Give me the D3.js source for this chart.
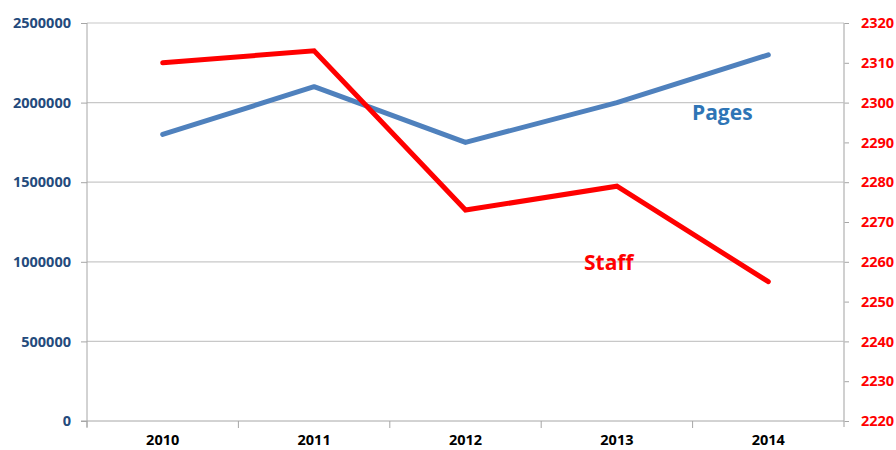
<!DOCTYPE html>
<html>
<head>
<meta charset="utf-8">
<script src="https://cdn.jsdelivr.net/npm/d3@7"></script>
<style>
  body { margin: 0; background: #fff; }
  text { font-family: "Open Sans", sans-serif; font-weight: bold; }
</style>
</head>
<body>
<script>
// data
var years = ["2010", "2011", "2012", "2013", "2014"];
var pages = [1800000, 2100000, 1750000, 2000000, 2300000];
var staff = [2310, 2313, 2273, 2279, 2255];
var leftTicks = [0, 500000, 1000000, 1500000, 2000000, 2500000];
var rightTicks = [2220, 2230, 2240, 2250, 2260, 2270, 2280, 2290, 2300, 2310, 2320];

var width = 896;
var height = 450;
var plot = {left: 87, right: 844, top: 23, bottom: 421};

var svg = d3.select("body").append("svg")
    .attr("width", width)
    .attr("height", height);

var x = d3.scaleBand().domain(years).range([plot.left, plot.right]);
var yL = d3.scaleLinear().domain([0, 2500000]).range([plot.bottom, plot.top]);
var yR = d3.scaleLinear().domain([2220, 2320]).range([plot.bottom, plot.top]);

// gridlines
svg.append("g")
    .selectAll("line")
    .data(leftTicks.slice(1))
    .enter().append("line")
    .attr("x1", plot.left).attr("x2", plot.right)
    .attr("y1", d => yL(d)).attr("y2", d => yL(d))
    .attr("stroke", "#c8c8c8")
    .attr("stroke-width", 1.2);

// left axis
var gl = svg.append("g").attr("transform", "translate(" + plot.left + ",0)")
    .call(d3.axisLeft(yL).tickValues(leftTicks).tickSize(6).tickPadding(10).tickFormat(d3.format("d")));
gl.select(".domain").remove();
gl.selectAll(".tick line").attr("stroke", "#a6a6a6");
gl.selectAll("text").attr("fill", "#244a7c").style("font-size", "14.5px");
gl.append("line").attr("x1", 0).attr("x2", 0).attr("y1", plot.top).attr("y2", plot.bottom + 6).attr("stroke", "#a6a6a6");

// right axis
var gr = svg.append("g").attr("transform", "translate(" + plot.right + ",0)")
    .call(d3.axisRight(yR).tickValues(rightTicks).tickSize(5).tickPadding(12).tickFormat(d3.format("d")));
gr.select(".domain").remove();
gr.selectAll(".tick line").attr("stroke", "#a6a6a6");
gr.selectAll("text").attr("fill", "#ff0000").style("font-size", "14.5px");
gr.append("line").attr("x1", 0).attr("x2", 0).attr("y1", plot.top).attr("y2", plot.bottom + 6).attr("stroke", "#c0c0c0").attr("stroke-width", 1.5);

// x axis
var gx = svg.append("g").attr("transform", "translate(0," + plot.bottom + ")")
    .call(d3.axisBottom(x).tickSize(0).tickPadding(14));
gx.select(".domain").remove();
gx.selectAll("text").attr("fill", "#000").style("font-size", "14.5px");
gx.append("line").attr("x1", plot.left - 6).attr("x2", plot.right).attr("stroke", "#a6a6a6");
gx.selectAll(".sep")
    .data(years)
    .enter().append("line")
    .attr("x1", d => x(d)).attr("x2", d => x(d))
    .attr("y1", 0).attr("y2", 7)
    .attr("stroke", "#a6a6a6");

// lines
var cx = d => x(d) + x.bandwidth() / 2;

svg.append("path")
    .datum(years)
    .attr("d", d3.line().x(cx).y((d, i) => yL(pages[i])))
    .attr("fill", "none")
    .attr("stroke", "#4f81bd")
    .attr("stroke-width", 5)
    .attr("stroke-linecap", "round")
    .attr("stroke-linejoin", "round");

svg.append("path")
    .datum(years)
    .attr("d", d3.line().x(cx).y((d, i) => yR(staff[i])))
    .attr("fill", "none")
    .attr("stroke", "#ff0000")
    .attr("stroke-width", 5)
    .attr("stroke-linecap", "round")
    .attr("stroke-linejoin", "miter");

// labels
svg.append("text")
    .attr("x", 692).attr("y", 120)
    .attr("fill", "#2e75b6")
    .style("font-size", "21px")
    .text("Pages");

svg.append("text")
    .attr("x", 584).attr("y", 270)
    .attr("fill", "#ff0000")
    .style("font-size", "21px")
    .text("Staff");
</script>
</body>
</html>
